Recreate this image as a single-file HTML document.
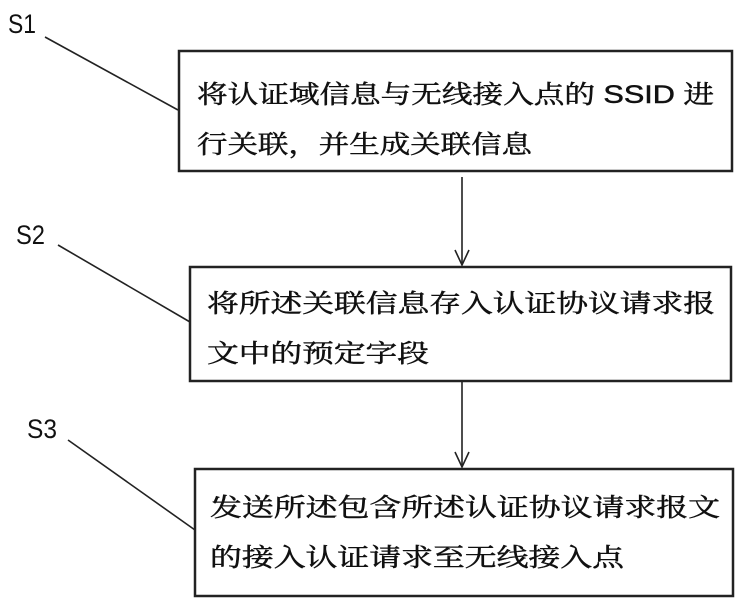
<!DOCTYPE html>
<html><head><meta charset="utf-8"><style>html,body{margin:0;padding:0;background:#fff}svg{display:block}</style></head>
<body>
<svg width="740" height="604" viewBox="0 0 740 604" xmlns="http://www.w3.org/2000/svg" font-family="'Liberation Sans','Noto Sans CJK SC',sans-serif" fill="#111">
<g fill="none" stroke="#222" stroke-width="2.5">
<rect x="179" y="51" width="553" height="120"/>
<rect x="190" y="267" width="541" height="114"/>
<rect x="195" y="469" width="538" height="127"/>
</g>
<g stroke="#222" stroke-width="1.6" fill="none">
<line x1="45" y1="37" x2="178" y2="110"/>
<line x1="58" y1="245" x2="190" y2="322"/>
<line x1="68" y1="440" x2="195" y2="530"/>
<line x1="462" y1="177" x2="462" y2="265"/>
<polyline points="455,250 462,265 469,250"/>
<line x1="462" y1="382" x2="462" y2="467"/>
<polyline points="455,452 462,467 469,452"/>
</g>
<g font-size="27" font-family="'Liberation Sans Narrow','Liberation Sans',sans-serif">
<text x="8" y="33" textLength="28" lengthAdjust="spacingAndGlyphs">S1</text>
<text x="16" y="244" textLength="29" lengthAdjust="spacingAndGlyphs">S2</text>
<text x="27" y="438" textLength="30" lengthAdjust="spacingAndGlyphs">S3</text>
</g>
<g font-size="25" stroke="#111" stroke-width="0.5" font-family="'Liberation Sans','Noto Serif CJK SC',serif">
<text x="197" y="103" textLength="517" lengthAdjust="spacingAndGlyphs">将认证域信息与无线接入点的 SSID 进</text>
<text x="197" y="153" textLength="335" lengthAdjust="spacingAndGlyphs">行关联，并生成关联信息</text>
<text x="207" y="312" textLength="508" lengthAdjust="spacingAndGlyphs">将所述关联信息存入认证协议请求报</text>
<text x="207" y="362" textLength="222" lengthAdjust="spacingAndGlyphs">文中的预定字段</text>
<text x="210" y="516" textLength="510" lengthAdjust="spacingAndGlyphs">发送所述包含所述认证协议请求报文</text>
<text x="210" y="566" textLength="414" lengthAdjust="spacingAndGlyphs">的接入认证请求至无线接入点</text>
</g>
</svg>
</body></html>
